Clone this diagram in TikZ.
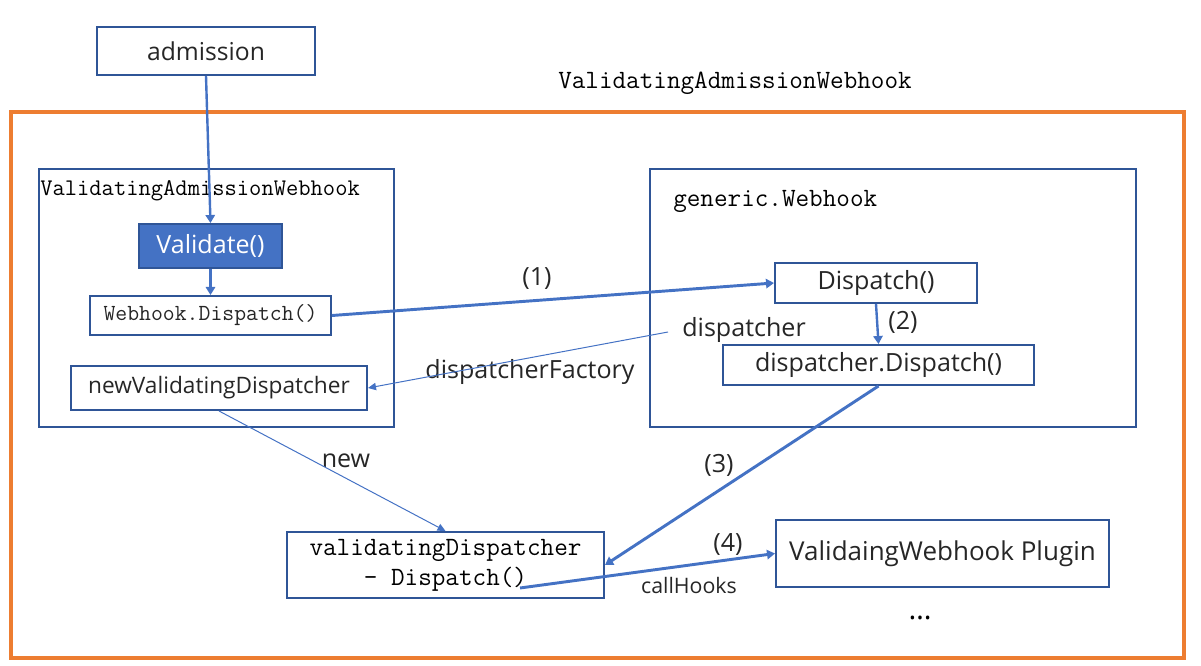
\documentclass[tikz,border=0pt]{standalone}
\usepackage{fontspec}
\setmainfont{Open Sans}
\usetikzlibrary{arrows.meta}
\definecolor{boxblue}{RGB}{47,85,151}
\definecolor{arrblue}{RGB}{68,114,196}
\definecolor{orng}{RGB}{237,125,49}
\definecolor{txt}{RGB}{38,38,38}
\tikzset{
  box/.style={draw=boxblue, line width=1.5pt, rectangle, inner sep=0pt, text=txt},
  sansfont/.style={font=\fontsize{18.8}{22}\selectfont},
  sanslbl/.style={font=\fontsize{18.8}{22}\selectfont, text=txt, inner sep=0pt},
  monolbl/.style={font=\ttfamily\fontsize{19.8}{22}\selectfont, inner sep=0pt},
  thickarr/.style={draw=arrblue, line width=2.2pt, -{Triangle[width=7pt,length=6pt]}},
  medarr/.style={draw=arrblue, line width=1.8pt, -{Triangle[width=7pt,length=6pt]}},
  thinarr/.style={draw=arrblue, line width=0.75pt, -{Triangle[width=5.5pt,length=6pt]}},
}
\begin{document}
\begin{tikzpicture}[x=0.75pt,y=-0.75pt]
\useasboundingbox (0,0) rectangle (1201,666);
% outer orange frame
\node[draw=orng, line width=2.4pt, rectangle, inner sep=0pt, minimum width=879.75pt, minimum height=409.5pt] (frame) at (597.5,385) {};
\node[monolbl] (title) at (735,83) {ValidatingAdmissionWebhook};

\node[box, minimum width=163.5pt, minimum height=36pt, font=\fontsize{18.5}{22}\selectfont] (admission) at (206,51) {admission};

% left group
\node[box, minimum width=266.25pt, minimum height=193.5pt] (leftbox) at (216.5,298) {};
\node[monolbl, font=\ttfamily\fontsize{17.9}{20}\selectfont, anchor=west] (lefttitle) at (40,191) {ValidatingAdmissionWebhook};
\node[box, fill=arrblue, text=white, minimum width=107.25pt, minimum height=33pt, sansfont] (validate) at (210.5,246) {Validate()};
\node[box, minimum width=180.75pt, minimum height=29.25pt, font=\ttfamily\fontsize{17.3}{20}\selectfont] (whd) at (210.5,315.5) {Webhook.Dispatch()};
\node[box, minimum width=222pt, minimum height=33pt, font=\fontsize{17}{20}\selectfont] (nvd) at (219,388) {newValidatingDispatcher};

% right group
\node[box, minimum width=364.5pt, minimum height=193.5pt] (rightbox) at (893,298) {};
\node[monolbl, anchor=west] (gtitle) at (673,201) {generic.Webhook};
\node[box, minimum width=151.5pt, minimum height=30pt, sansfont] (disp) at (876,283) {Dispatch()};
\node[box, minimum width=233.25pt, minimum height=30pt, sansfont] (ddisp) at (878.5,365) {dispatcher.Dispatch()};

% bottom
\node[box, minimum width=237.75pt, minimum height=49.5pt, align=center, font=\ttfamily\fontsize{19.8}{22.5}\selectfont, text=black] (vd) at (445.5,565) {validatingDispatcher\\- Dispatch()};
\node[box, minimum width=249.75pt, minimum height=50.25pt, font=\fontsize{19.5}{22}\selectfont] (plugin) at (942.5,553.5) {ValidaingWebhook Plugin};
\node[sanslbl, font=\fontsize{22}{22}\selectfont, text=black] (dots) at (920,618) {…};

% labels
\node[sanslbl] (l1) at (537,279) {(1)};
\node[sanslbl] (l2) at (903,322) {(2)};
\node[sanslbl] (ldisp) at (744,330) {dispatcher};
\node[sanslbl] (lfact) at (530,372) {dispatcherFactory};
\node[sanslbl] (lnew) at (346,461) {new};
\node[sanslbl] (l3) at (719,465) {(3)};
\node[sanslbl] (l4) at (728,544) {(4)};
\node[sanslbl, font=\fontsize{16}{18}\selectfont] (lcall) at (689,585) {callHooks};

\coordinate (dstart) at (668,332);
\coordinate (cstart) at (520,588);

% connectors
\draw[medarr] (admission.south) -- (validate.north);
\draw[medarr] (validate.south) -- (whd.north);
\draw[thickarr] (whd.east) -- (disp.west);
\draw[medarr] (disp.south) -- (ddisp.north);
\draw[thinarr] (dstart) -- (nvd.east);
\draw[thinarr] (nvd.south) -- (vd.north);
\draw[thickarr] (ddisp.south) -- (vd.east);
\draw[thickarr] (cstart) -- (plugin.west);
\end{tikzpicture}
\end{document}
